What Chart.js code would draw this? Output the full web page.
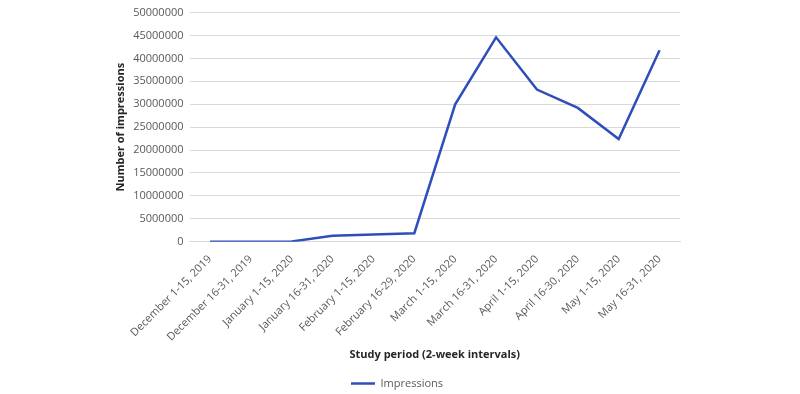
<!DOCTYPE html>
<html>
<head>
<meta charset="utf-8">
<script src="https://cdn.jsdelivr.net/npm/chart.js@4/dist/chart.umd.min.js"></script>
<style>
  html, body { margin: 0; padding: 0; background: #fff; }
  #wrap { width: 800px; height: 394px; }
</style>
</head>
<body>
<div id="wrap"><canvas id="chart"></canvas></div>
<script>
// Chart data
const periods = [
    'December 1-15, 2019', 'December 16-31, 2019', 'January 1-15, 2020',
    'January 16-31, 2020', 'February 1-15, 2020', 'February 16-29, 2020',
    'March 1-15, 2020', 'March 16-31, 2020', 'April 1-15, 2020',
    'April 16-30, 2020', 'May 1-15, 2020', 'May 16-31, 2020'
];
const impressions = [
    0, 20000, 60000, 1300000, 1600000, 1850000,
    30000000, 44600000, 33200000, 29200000, 22400000, 41800000
];
const yMax = 50000000;
const yStep = 5000000;

const textColor = '#595959';
const fontFamily = '"Open Sans", "Liberation Sans", sans-serif';

new Chart(document.getElementById('chart'), {
    type: 'line',
    data: {
        labels: periods,
        datasets: [{
            label: 'Impressions',
            data: impressions,
            borderColor: '#2D4EBB',
            backgroundColor: '#2D4EBB',
            borderWidth: 2.5,
            pointRadius: 0,
            tension: 0
        }]
    },
    options: {
        responsive: true,
        maintainAspectRatio: false,
        animation: false,
        layout: {
            padding: { left: 114, right: 120, top: 2, bottom: -5 }
        },
        plugins: {
            legend: {
                position: 'bottom',
                labels: {
                    color: textColor,
                    font: { family: fontFamily, size: 11 },
                    usePointStyle: true,
                    pointStyle: 'line',
                    pointStyleWidth: 24,
                    padding: 0
                }
            },
            tooltip: { enabled: false }
        },
        scales: {
            x: {
                offset: true,
                grid: { display: false },
                border: { color: '#d9d9d9' },
                ticks: {
                    color: textColor,
                    font: { family: fontFamily, size: 11 },
                    minRotation: 45,
                    maxRotation: 45,
                    autoSkip: false
                },
                title: {
                    display: true,
                    text: 'Study period (2-week intervals)',
                    color: '#262626',
                    font: { family: fontFamily, size: 11, weight: 'bold' },
                    padding: { top: 1, bottom: 17 }
                }
            },
            y: {
                min: 0,
                max: yMax,
                grid: { color: '#d9d9d9', drawTicks: false },
                border: { display: false },
                ticks: {
                    stepSize: yStep,
                    color: textColor,
                    font: { family: fontFamily, size: 11 },
                    padding: 6,
                    callback: (v) => String(v)
                },
                title: {
                    display: true,
                    text: 'Number of impressions',
                    color: '#262626',
                    font: { family: fontFamily, size: 11, weight: 'bold' },
                    padding: 0
                }
            }
        }
    }
});
</script>
</body>
</html>
